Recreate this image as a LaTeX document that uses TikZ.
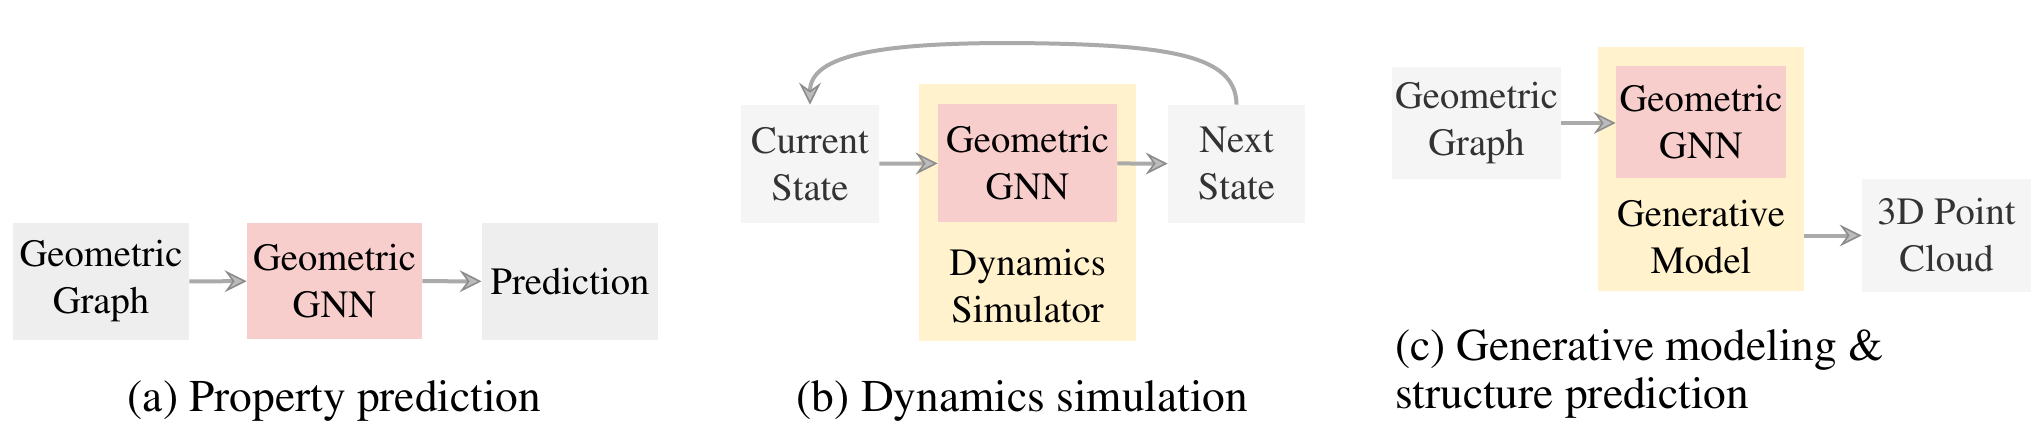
\documentclass[tikz,border=0pt]{standalone}
\usepackage[T1]{fontenc}
\usepackage{mathptmx}
\usetikzlibrary{arrows.meta}
\definecolor{boxgray}{HTML}{EEEEEE}
\definecolor{boxlight}{HTML}{F5F5F5}
\definecolor{gnnred}{HTML}{F8CECC}
\definecolor{modelyellow}{HTML}{FFF2CC}
\definecolor{arrowgray}{HTML}{AAAAAA}
\definecolor{textgray}{HTML}{333333}
\tikzset{
  block/.style={rectangle, inner sep=0pt, align=center, font=\fontsize{19.3}{23.5}\selectfont},
  flow/.style={draw=arrowgray, line width=2pt, -{Stealth[length=11pt, width=11pt, inset=4pt, line width=0.8pt, fill=arrowgray!80, color=black!45]}},
  caption/.style={align=left, font=\fontsize{22.7}{24}\selectfont}
}
\begin{document}
\begin{tikzpicture}[x=0.5pt,y=-0.5pt]
  \useasboundingbox (0,0) rectangle (2044,435);
  % (a)
  \node[block,fill=boxgray,minimum width=88pt,minimum height=58.5pt] (agraph) at (101,281.5) {Geometric\\Graph};
  \node[block,fill=gnnred,minimum width=87.5pt,minimum height=58pt] (agnn) at (334.5,281) {Geometric\\GNN};
  \node[block,fill=boxgray,minimum width=88pt,minimum height=58.5pt] (apred) at (570,281.5) {Prediction};
  \draw[flow] (agraph) -- (agnn);
  \draw[flow] (agnn) -- (apred);
  \node[caption] (acap) at (334.5,401) {(a) Property prediction};
  % (b)
  \node[block,fill=modelyellow,minimum width=108.5pt,minimum height=128.5pt] (bsim) at (1027.5,212.5) {};
  \node[block,fill=gnnred,minimum width=89.5pt,minimum height=59pt] (bgnn) at (1027.5,163) {Geometric\\GNN};
  \node[block] (bsimtext) at (1027.5,286.5) {Dynamics\\Simulator};
  \node[block,fill=boxlight,text=textgray,minimum width=69pt,minimum height=59pt] (bcur) at (810,164) {Current\\State};
  \node[block,fill=boxlight,text=textgray,minimum width=68.5pt,minimum height=59pt] (bnext) at (1236.5,164) {Next\\State};
  \draw[flow] (bcur) -- (bgnn);
  \draw[flow] (bgnn) -- (bnext);
  \draw[flow] (bnext.north) .. controls (1236,55) and (1170,44) .. (1010,43) .. controls (880,43) and (810,55) .. (bcur.north);
  \node[caption] (bcap) at (1022.5,401) {(b) Dynamics simulation};
  % (c)
  \node[block,fill=modelyellow,minimum width=103pt,minimum height=122pt] (cgen) at (1701,169) {};
  \node[block,fill=gnnred,minimum width=85pt,minimum height=56pt] (cgnn) at (1701,122) {Geometric\\GNN};
  \node[block] (cgentext) at (1701,237) {Generative\\Model};
  \node[block,fill=boxlight,text=textgray,minimum width=84.5pt,minimum height=56pt] (cgraph) at (1476.5,123) {Geometric\\Graph};
  \node[block,fill=boxlight,text=textgray,minimum width=84.5pt,minimum height=56.5pt] (ccloud) at (1946.5,235.5) {3D Point\\Cloud};
  \draw[flow] (cgraph) -- (cgraph -| cgnn.west);
  \draw[flow] (ccloud -| cgen.east) -- (ccloud);
  \node[caption,anchor=west] (ccap) at (1388,374) {(c) Generative modeling \&\\structure prediction};
\end{tikzpicture}
\end{document}
